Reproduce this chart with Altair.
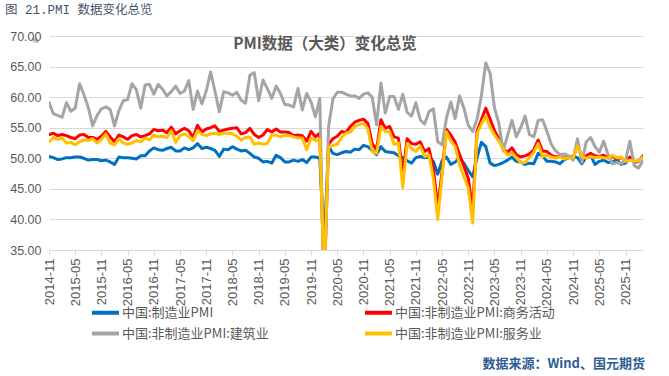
import altair as alt
import pandas as pd

# ---- data -------------------------------------------------------------
months = [p.strftime("%Y-%m") for p in pd.period_range("2014-11", "2026-03", freq="M")]

tick_labels = ["2014-11", "2015-05", "2015-11", "2016-05", "2016-11", "2017-05",
               "2017-11", "2018-05", "2018-11", "2019-05", "2019-11", "2020-05",
               "2020-11", "2021-05", "2021-11", "2022-05", "2022-11", "2023-05",
               "2023-11", "2024-05", "2024-11", "2025-05", "2025-11"]

series_names = ["中国:制造业PMI", "中国:非制造业PMI:商务活动",
                "中国:非制造业PMI:建筑业", "中国:非制造业PMI:服务业"]
series_colors = ["#0070C0", "#FF0000", "#A5A5A5", "#FFC000"]
# legend fills column by column: blue, gray | red, yellow
legend_order = [0, 2, 1, 3]

manufacturing = [
    50.3, 50.1,
    49.8, 49.9, 50.1, 50.1, 50.2, 50.2, 50.0, 49.7, 49.8, 49.8, 49.6, 49.7,
    49.4, 49.0, 50.2, 50.1, 50.1, 50.0, 49.9, 50.4, 50.4, 51.2, 51.7, 51.4,
    51.3, 51.6, 51.8, 51.2, 51.2, 51.7, 51.4, 51.7, 52.4, 51.6, 51.8, 51.6,
    51.3, 50.3, 51.5, 51.4, 51.9, 51.5, 51.2, 51.3, 50.8, 50.2, 50.0, 49.4,
    49.5, 49.2, 50.5, 50.1, 49.4, 49.4, 49.7, 49.5, 49.8, 49.3, 50.2, 50.2,
    50.0, 35.7, 52.0, 50.8, 50.6, 50.9, 51.1, 51.0, 51.5, 51.4, 52.1, 51.9,
    51.3, 50.6, 51.9, 51.1, 51.0, 50.9, 50.4, 50.1, 49.6, 49.2, 50.1, 50.3,
    50.1, 50.2, 49.5, 47.4, 49.6, 50.2, 49.0, 49.4, 50.1, 49.2, 48.0, 47.0,
    50.1, 52.6, 51.9, 49.2, 48.8, 49.0, 49.3, 49.7, 50.2, 49.5, 49.4, 49.0,
    49.2, 49.1, 50.8, 50.4, 49.5, 49.5, 49.4, 49.1, 49.8, 50.1, 50.3, 50.1,
    49.1, 50.2, 50.5, 49.0, 49.5, 49.7, 49.3, 49.4, 49.8, 49.0, 49.2, 50.1,
    49.3, 49.5, 50.4,
]

business_activity = [
    53.9, 54.1,
    53.7, 53.9, 53.7, 53.4, 53.2, 53.8, 53.9, 53.4, 53.4, 53.1, 53.6, 54.4,
    53.5, 52.7, 53.8, 53.5, 53.1, 53.7, 53.9, 53.5, 53.7, 54.0, 54.7, 54.5,
    54.6, 54.2, 55.1, 54.0, 54.5, 54.9, 54.5, 53.4, 55.4, 54.3, 54.8, 55.0,
    55.3, 54.4, 54.6, 54.8, 54.9, 55.0, 54.0, 54.2, 54.9, 53.9, 53.4, 53.8,
    54.7, 54.3, 54.8, 54.3, 54.3, 54.2, 53.7, 53.8, 53.7, 52.8, 54.4, 53.5,
    54.1, 29.6, 52.3, 53.2, 53.6, 54.4, 54.2, 55.2, 55.9, 56.2, 56.4, 55.7,
    52.4, 51.4, 56.3, 54.9, 55.2, 53.5, 53.3, 47.5, 53.2, 52.4, 52.3, 52.7,
    51.1, 51.6, 48.4, 41.9, 47.8, 54.7, 53.8, 52.6, 50.6, 48.7, 46.7, 41.6,
    54.4, 56.3, 58.2, 56.4, 54.5, 53.2, 51.5, 51.0, 51.7, 50.6, 50.2, 50.4,
    50.7, 51.4, 53.0, 51.2, 51.1, 50.5, 50.2, 50.3, 50.0, 50.2, 50.0, 52.2,
    50.2, 50.4, 50.8, 50.4, 50.3, 50.5, 50.1, 50.3, 50.0, 50.1, 49.5, 50.2,
    49.4, 49.6, 50.3,
]

construction = [
    59.1, 57.3,
    57.0, 56.7, 59.1, 57.7, 58.2, 62.2, 60.4, 58.3, 55.3, 57.0, 58.1, 58.4,
    58.0, 55.3, 57.8, 59.4, 59.6, 62.2, 61.2, 58.2, 62.0, 62.1, 60.5, 62.1,
    61.3, 60.2, 60.9, 61.8, 60.6, 61.0, 62.7, 58.0, 61.0, 58.9, 61.0, 64.1,
    61.0, 57.6, 60.9, 60.7, 60.3, 60.8, 59.5, 59.0, 63.6, 64.0, 59.4, 62.8,
    61.4, 59.8, 61.8, 60.6, 58.8, 58.7, 58.4, 61.4, 57.9, 60.6, 59.2, 56.8,
    59.8, 26.6, 55.1, 59.7, 60.8, 60.8, 60.5, 60.2, 60.2, 59.8, 60.5, 60.7,
    60.0, 55.5, 62.3, 57.4, 60.1, 60.1, 58.0, 60.5, 57.5, 56.9, 59.1, 56.3,
    55.6, 57.6, 58.1, 52.7, 52.2, 56.6, 59.2, 56.5, 60.2, 58.2, 55.4, 54.4,
    56.4, 60.2, 65.6, 63.9, 58.2, 55.7, 51.2, 53.8, 56.2, 53.5, 55.0, 56.9,
    53.9, 53.5, 56.2, 56.3, 54.4, 52.3, 51.2, 50.6, 50.7, 50.4, 49.7, 53.2,
    49.3, 52.7, 53.4, 51.9, 51.0, 52.8, 50.6, 49.1, 49.3, 49.1, 49.6, 52.8,
    48.8, 48.4, 49.6,
]

services = [
    52.7, 53.4,
    53.1, 53.3, 52.5, 52.6, 52.2, 52.7, 53.0, 52.9, 53.2, 52.5, 53.1, 54.0,
    52.5, 52.2, 53.2, 52.5, 52.3, 52.5, 52.9, 52.7, 53.3, 53.0, 53.8, 53.5,
    53.6, 53.4, 54.5, 52.6, 53.7, 54.0, 53.6, 52.9, 54.5, 53.9, 53.7, 54.0,
    54.1, 53.9, 54.1, 54.1, 54.0, 53.6, 53.0, 53.4, 53.5, 52.3, 52.5, 52.3,
    52.4, 53.8, 53.8, 53.5, 53.8, 53.7, 53.5, 53.3, 53.3, 51.4, 53.3, 52.9,
    53.1, 30.1, 51.8, 52.1, 52.3, 53.4, 54.1, 54.3, 55.2, 55.5, 55.7, 54.8,
    51.1, 50.8, 55.2, 54.4, 54.3, 52.3, 52.5, 45.2, 52.4, 51.6, 51.1, 52.0,
    50.3, 50.5, 46.7, 40.0, 47.1, 54.3, 52.8, 51.9, 48.9, 47.0, 45.1, 39.4,
    54.0, 55.6, 56.9, 55.1, 53.8, 52.8, 51.5, 50.5, 50.9, 50.1, 49.3, 49.3,
    50.1, 51.0, 52.4, 50.3, 50.5, 50.2, 50.0, 50.2, 49.9, 50.1, 50.1, 52.0,
    50.3, 50.0, 50.3, 50.1, 50.2, 50.1, 50.0, 50.5, 50.1, 50.2, 49.5, 49.7,
    49.5, 49.6, 50.2,
]

header_text = "图 21.PMI 数据变化总览"
title_text = "PMI数据（大类）变化总览"
source_text = "数据来源：Wind、国元期货"
unit_text = "%"

# ---- chart ------------------------------------------------------------
all_values = [manufacturing, business_activity, construction, services]

legend_domain = [series_names[i] for i in legend_order]
legend_range = [series_colors[i] for i in legend_order]
color_scale = alt.Scale(domain=legend_domain, range=legend_range)


def line_layer(name, values):
    df = pd.DataFrame({"month": months, "value": values, "series": name})
    return alt.Chart(df).mark_line(
        strokeWidth=3, clip=True, strokeJoin="round", strokeCap="round"
    ).encode(
        x=alt.X("month:O",
                scale=alt.Scale(type="point", padding=0),
                axis=alt.Axis(values=tick_labels, labelAngle=-90, title=None,
                              grid=False, ticks=True, tickSize=5,
                              tickColor="#D9D9D9", domainColor="#D9D9D9",
                              labelColor="#595959", labelFontSize=13,
                              labelFont="Liberation Sans", labelPadding=3)),
        y=alt.Y("value:Q",
                scale=alt.Scale(domain=[35, 70], nice=False, zero=False),
                axis=alt.Axis(values=[35, 40, 45, 50, 55, 60, 65, 70],
                              format=".2f", title=None, domain=False,
                              ticks=False, gridColor="#D9D9D9",
                              labelColor="#595959", labelFontSize=12.5,
                              labelFont="Liberation Sans", labelPadding=8)),
        color=alt.Color("series:N", scale=color_scale, sort=legend_domain,
                        legend=alt.Legend(
                            title=None, orient="none", legendX=47, legendY=267,
                            columns=2, columnPadding=88, rowPadding=3,
                            symbolType="M-1.8,0H1.8", symbolSize=225,
                            symbolStrokeWidth=4, labelOffset=7,
                            labelFontSize=13, labelColor="#595959",
                            labelLimit=400, labelFont="Noto Sans CJK SC")),
    )


lines = [line_layer(n, v) for n, v in zip(series_names, all_values)]


def text_layer(text, x, y, **kw):
    return alt.Chart(pd.DataFrame({"t": [text]})).mark_text(**kw).encode(
        text="t:N", x=alt.value(x), y=alt.value(y))


header = text_layer(header_text, -44, -26, align="left", baseline="middle",
                    fontSize=12.5, color="#44546A",
                    font="Liberation Mono, Noto Sans CJK SC")
title = text_layer(title_text, 276, 8, align="center", baseline="middle",
                   fontSize=15.5, fontWeight="bold", color="#595959",
                   font="Noto Sans CJK SC")
source = text_layer(source_text, 596, 328, align="right", baseline="middle",
                    fontSize=13, fontWeight="bold", color="#2E5C96",
                    font="Noto Sans CJK SC")
unit = text_layer(unit_text, -14, 5, align="center", baseline="middle",
                  fontSize=8, color="#595959", font="Liberation Sans")

chart = alt.layer(*lines, header, title, source, unit).properties(
    width=594, height=214,
    autosize=alt.AutoSizeParams(type="none"),
    padding={"left": 49, "top": 36, "right": 26, "bottom": 126},
    background="white",
).configure_view(stroke=None)

chart.save("out.html", embed_options={"renderer": "svg", "actions": False})
